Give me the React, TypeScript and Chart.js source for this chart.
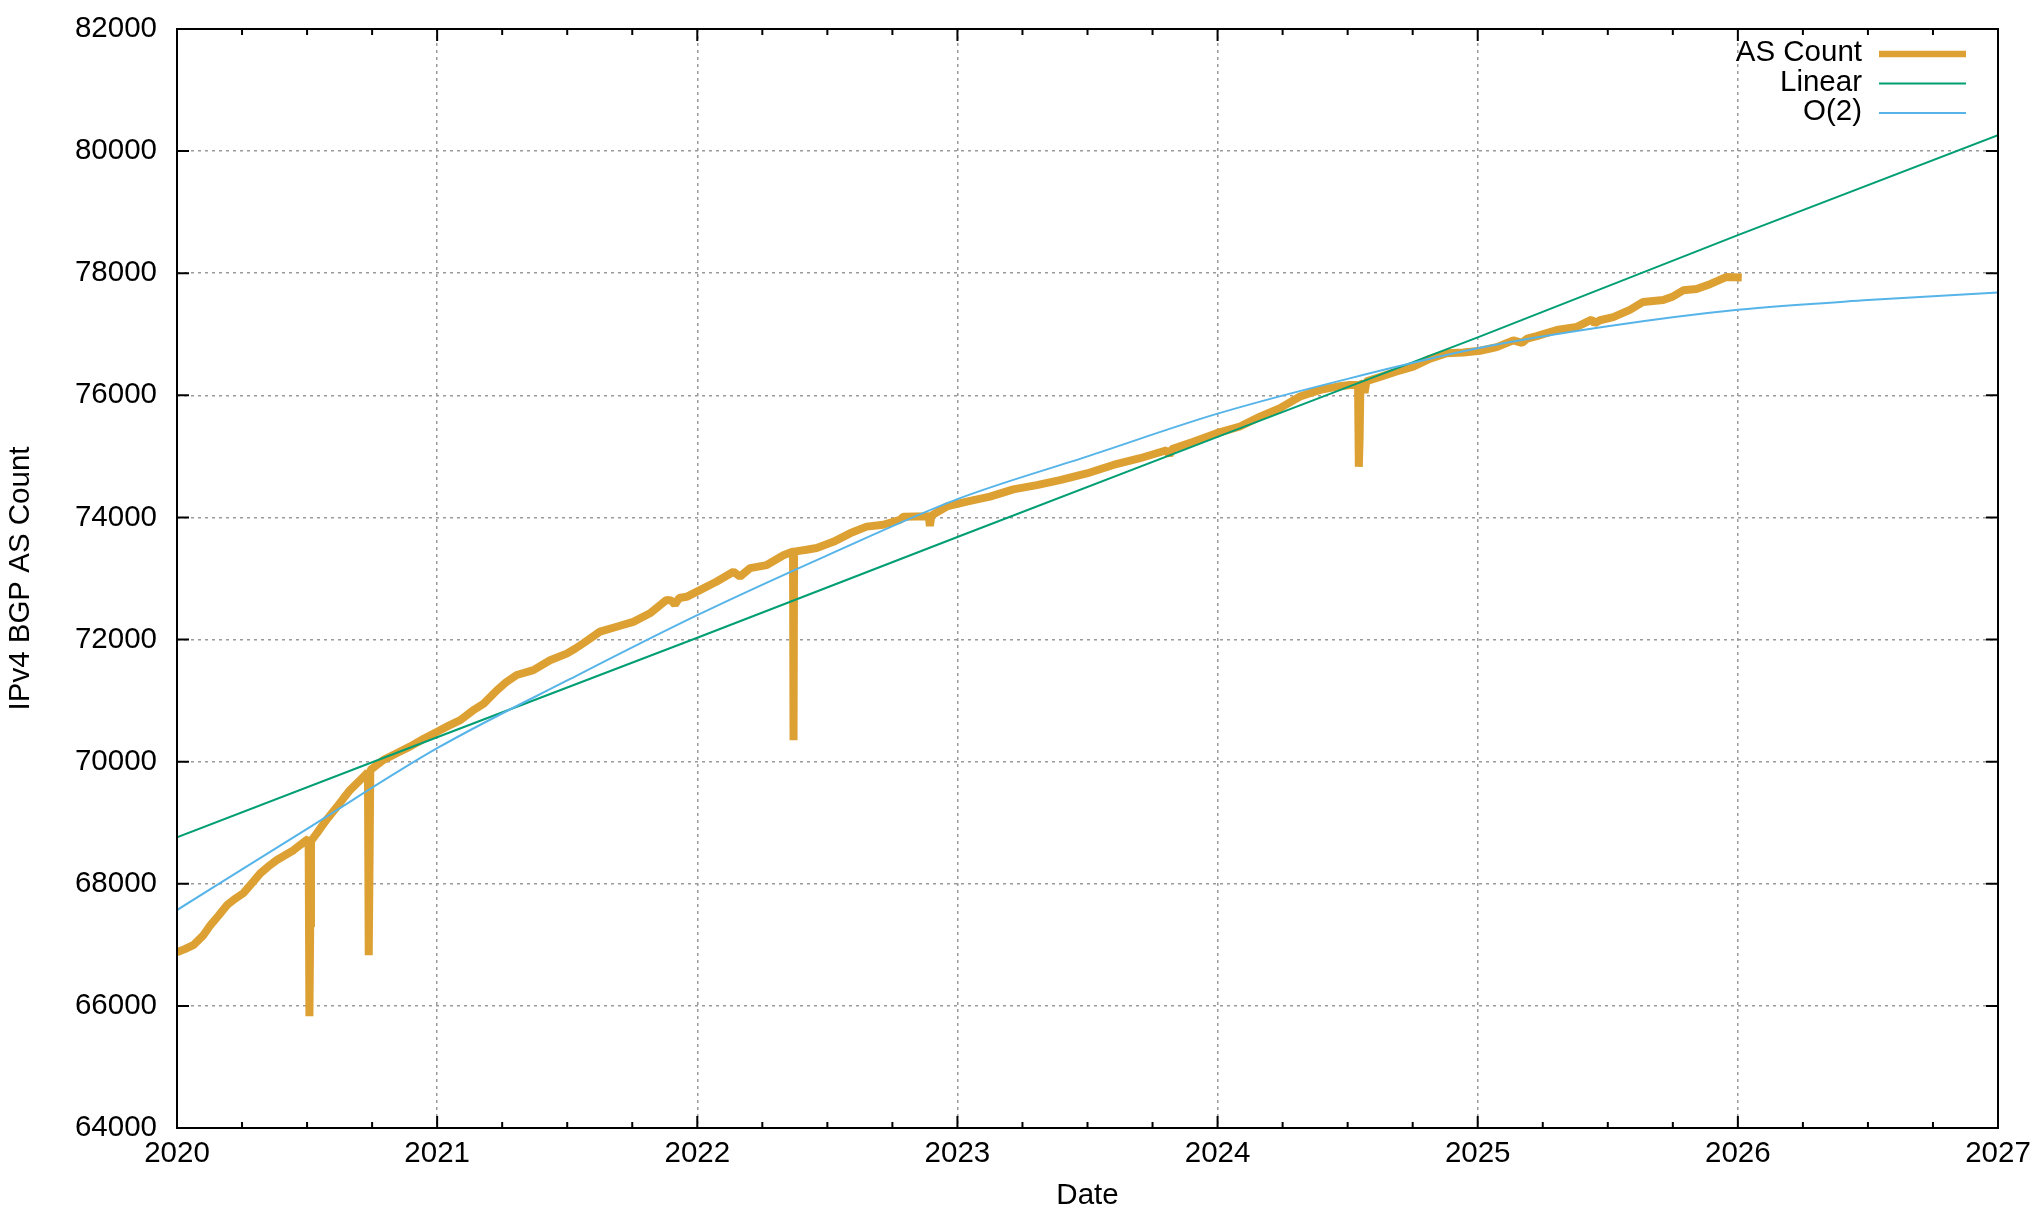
import React, { useEffect, useRef } from "react";
import { Chart, registerables } from "chart.js";

Chart.register(...registerables);

// ---------- data ----------
const seriesLabels = ["AS Count", "Linear", "O(2)"];

const asCountYears = [
  2020.0, 2020.03, 2020.064, 2020.1, 2020.128, 2020.16, 2020.192, 2020.225, 2020.256, 2020.29,
  2020.32, 2020.35, 2020.384, 2020.42, 2020.448, 2020.475, 2020.5, 2020.506, 2020.509, 2020.512,
  2020.515, 2020.538, 2020.575, 2020.615, 2020.64, 2020.666, 2020.7, 2020.73, 2020.734, 2020.737,
  2020.74, 2020.743, 2020.77, 2020.794, 2020.85, 2020.897, 2020.95, 2021.0, 2021.045, 2021.089,
  2021.135, 2021.179, 2021.23, 2021.265, 2021.306, 2021.37, 2021.434, 2021.498, 2021.53, 2021.562,
  2021.626, 2021.69, 2021.754, 2021.818, 2021.882, 2021.9, 2021.914, 2021.93, 2021.959, 2022.01,
  2022.075, 2022.139, 2022.164, 2022.203, 2022.267, 2022.331, 2022.366, 2022.368, 2022.37, 2022.372,
  2022.42, 2022.459, 2022.523, 2022.587, 2022.651, 2022.715, 2022.779, 2022.792, 2022.89, 2022.894,
  2022.9, 2022.959, 2023.036, 2023.125, 2023.215, 2023.305, 2023.394, 2023.497, 2023.599, 2023.702,
  2023.804, 2023.815, 2023.825, 2023.907, 2023.997, 2024.086, 2024.163, 2024.24, 2024.317, 2024.394,
  2024.471, 2024.509, 2024.54, 2024.543, 2024.546, 2024.549, 2024.56, 2024.565, 2024.572, 2024.624,
  2024.688, 2024.752, 2024.817, 2024.881, 2024.945, 2025.009, 2025.073, 2025.137, 2025.17, 2025.19,
  2025.227, 2025.304, 2025.381, 2025.438, 2025.45, 2025.47, 2025.521, 2025.585, 2025.636, 2025.713,
  2025.751, 2025.79, 2025.841, 2025.893, 2025.957, 2026.015,
];
const asCountValues = [
  66880, 66930, 67000, 67150, 67320, 67480, 67650, 67760, 67850, 68020,
  68170, 68280, 68390, 68480, 68550, 68640, 68720, 68740, 65830, 67300,
  68700, 68830, 69050, 69260, 69400, 69540, 69680, 69810, 69830, 66830,
  68300, 69860, 69950, 70030, 70150, 70250, 70380, 70490, 70590, 70680,
  70830, 70950, 71170, 71300, 71420, 71500, 71660, 71770, 71850, 71940,
  72130, 72210, 72290, 72430, 72650, 72640, 72570, 72680, 72700, 72810,
  72950, 73110, 73030, 73170, 73220, 73380, 73440, 73440, 70350, 73440,
  73470, 73500, 73600, 73740, 73850, 73880, 73960, 74010, 74020, 73860,
  74030, 74180, 74260, 74340, 74460, 74530, 74610, 74720, 74860, 74970,
  75100, 75020, 75120, 75240, 75380, 75490, 75650, 75790, 75980, 76090,
  76150, 76170, 76170, 74830, 75300, 76180, 76200, 76040, 76230, 76300,
  76390, 76470, 76600, 76690, 76700, 76730, 76790, 76900, 76860, 76930,
  76970, 77070, 77120, 77240, 77180, 77230, 77280, 77400, 77530, 77560,
  77620, 77720, 77740, 77820, 77940, 77930,
];

const linearYears = [2020, 2021, 2022, 2023, 2024, 2025, 2026, 2027];
const linearValues = [68760, 70400, 72030, 73680, 75320, 76950, 78625, 80260];

const quadYears = [2020, 2020.5, 2021, 2021.5, 2022, 2022.5, 2023, 2023.5, 2024, 2024.5, 2025, 2025.5, 2026, 2026.5, 2027];
const quadValues = [67570, 68900, 70220, 71330, 72400, 73380, 74300, 75000, 75700, 76270, 76770, 77130, 77400, 77560, 77686];

const xTickYears = [2020, 2021, 2022, 2023, 2024, 2025, 2026, 2027];
const yTickValues = [64000, 66000, 68000, 70000, 72000, 74000, 76000, 78000, 80000, 82000];
const xMinorFractions = [0.25, 0.5, 0.75];

const seriesColors = ["#DDA033", "#009E73", "#56B4E9"];

// ---------- style ----------
const FONT = "'Liberation Sans', Arial, sans-serif";
const FS = 29.5;
const W = 2034;
const H = 1220;

const gnuFrame = {
  id: "gnuFrame",
  afterDraw(chart: any) {
    const { ctx, chartArea: a, scales } = chart;
    const xs = scales.x;
    const ys = scales.y;
    ctx.save();
    ctx.setLineDash([]);
    ctx.strokeStyle = "#000";
    ctx.lineWidth = 2;
    ctx.strokeRect(a.left, a.top, a.right - a.left, a.bottom - a.top);
    ctx.beginPath();
    xs.ticks.forEach((t: any, i: number) => {
      const px = xs.getPixelForValue(t.value);
      ctx.moveTo(px, a.bottom);
      ctx.lineTo(px, a.bottom - 12);
      ctx.moveTo(px, a.top);
      ctx.lineTo(px, a.top + 12);
      if (i < xs.ticks.length - 1) {
        xMinorFractions.forEach((f) => {
          const mp = xs.getPixelForValue(t.value + f);
          ctx.moveTo(mp, a.bottom);
          ctx.lineTo(mp, a.bottom - 6);
          ctx.moveTo(mp, a.top);
          ctx.lineTo(mp, a.top + 6);
        });
      }
    });
    ys.ticks.forEach((t: any) => {
      const py = ys.getPixelForValue(t.value);
      ctx.moveTo(a.left, py);
      ctx.lineTo(a.left + 12, py);
      ctx.moveTo(a.right, py);
      ctx.lineTo(a.right - 12, py);
    });
    ctx.stroke();

    // legend (gnuplot style: text right-aligned, sample to the right)
    ctx.font = `${FS}px ${FONT}`;
    ctx.textAlign = "right";
    ctx.textBaseline = "middle";
    chart.data.datasets.forEach((ds: any, i: number) => {
      const y = a.top + 25 + i * 29.5;
      ctx.fillStyle = "#000";
      ctx.fillText(ds.label, a.right - 136, y - 1);
      ctx.beginPath();
      ctx.strokeStyle = ds.borderColor;
      ctx.lineWidth = i === 0 ? 6.5 : 2;
      ctx.moveTo(a.right - 119, y);
      ctx.lineTo(a.right - 32, y);
      ctx.stroke();
    });
    ctx.restore();
  },
};

export default function App() {
  const ref = useRef<HTMLCanvasElement | null>(null);

  useEffect(() => {
    if (!ref.current) return;
    const asData = asCountYears.map((x, i) => ({ x, y: asCountValues[i] }));
    const linData = linearYears.map((x, i) => ({ x, y: linearValues[i] }));
    const quadData = quadYears.map((x, i) => ({ x, y: quadValues[i] }));

    const gridCommon = {
      color: "#9a9a9a",
      lineWidth: 1.5,
      drawTicks: false,
    };

    const chart = new Chart(ref.current, {
      type: "line",
      data: {
        datasets: [
          {
            label: seriesLabels[0],
            data: asData,
            borderColor: seriesColors[0],
            backgroundColor: seriesColors[0],
            borderWidth: 8,
            pointRadius: 0,
            tension: 0,
            borderJoinStyle: "bevel",
            borderCapStyle: "butt",
            order: 3,
          },
          {
            label: seriesLabels[1],
            data: linData,
            borderColor: seriesColors[1],
            backgroundColor: seriesColors[1],
            borderWidth: 2,
            pointRadius: 0,
            tension: 0,
            order: 2,
          },
          {
            label: seriesLabels[2],
            data: quadData,
            borderColor: seriesColors[2],
            backgroundColor: seriesColors[2],
            borderWidth: 2,
            pointRadius: 0,
            cubicInterpolationMode: "monotone",
            order: 1,
          },
        ],
      },
      options: {
        animation: false,
        responsive: false,
        devicePixelRatio: 1,
        layout: { padding: { left: 0, top: 29, right: 36, bottom: 0 } },
        plugins: {
          legend: { display: false },
          tooltip: { enabled: false },
        },
        scales: {
          x: {
            type: "linear",
            min: xTickYears[0],
            max: xTickYears[xTickYears.length - 1],
            afterBuildTicks: (s: any) => {
              s.ticks = xTickYears.map((v) => ({ value: v }));
            },
            ticks: {
              callback: (v: any) => String(v),
              font: { family: FONT, size: FS },
              color: "#000",
              padding: 8,
              maxRotation: 0,
              autoSkip: false,
            },
            grid: gridCommon,
            border: { display: false, dash: [3, 4] },
            title: {
              display: true,
              text: "Date",
              font: { family: FONT, size: FS },
              color: "#000",
              padding: { top: 0, bottom: 6 },
            },
            afterFit: (s: any) => {
              s.height = 92;
              s.paddingLeft = 0;
              s.paddingRight = 0;
            },
          },
          y: {
            type: "linear",
            min: yTickValues[0],
            max: yTickValues[yTickValues.length - 1],
            afterBuildTicks: (s: any) => {
              s.ticks = yTickValues.map((v) => ({ value: v }));
            },
            ticks: {
              callback: (v: any) => String(v),
              font: { family: FONT, size: FS },
              color: "#000",
              padding: 20,
              autoSkip: false,
            },
            grid: gridCommon,
            border: { display: false, dash: [3, 4] },
            title: {
              display: true,
              text: "IPv4 BGP AS Count",
              font: { family: FONT, size: FS },
              color: "#000",
              padding: { top: 3, bottom: 0 },
            },
            afterFit: (s: any) => {
              s.width = 177;
              s.paddingTop = 0;
              s.paddingBottom = 0;
            },
          },
        },
      } as any,
      plugins: [gnuFrame],
    });
    return () => chart.destroy();
  }, []);

  return (
    <div style={{ position: "absolute", left: 0, top: 0, width: W, height: H, background: "#fff" }}>
      <canvas ref={ref} width={W} height={H} style={{ display: "block", width: W, height: H }} />
    </div>
  );
}
